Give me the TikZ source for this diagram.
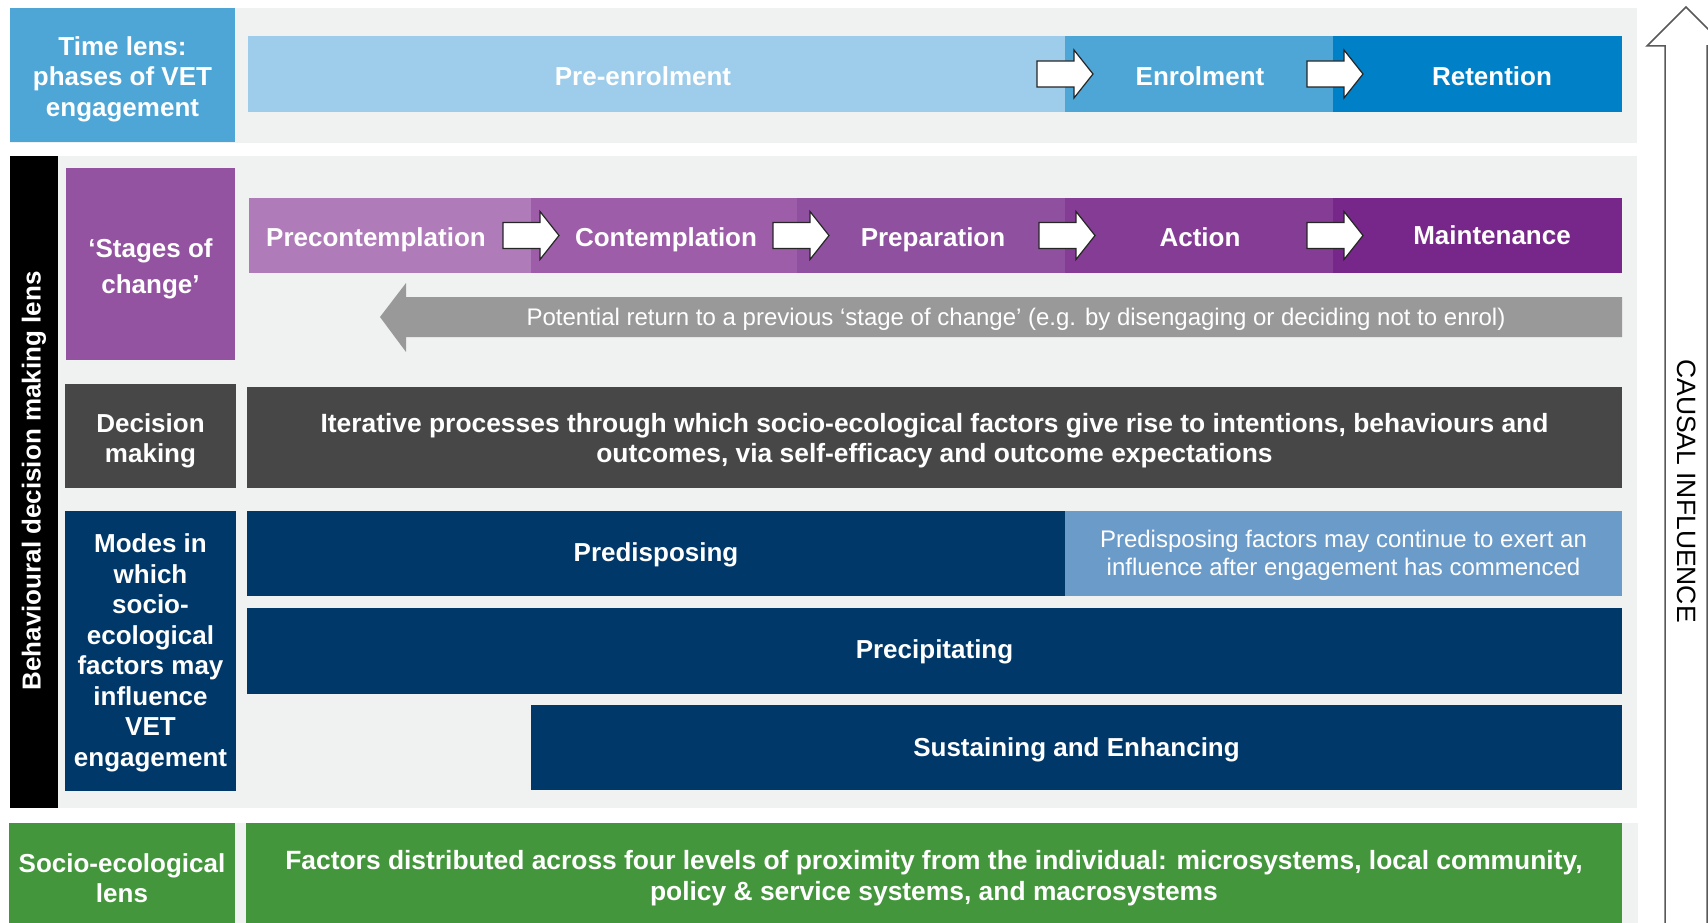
\documentclass[tikz,border=0pt]{standalone}
\usepackage{fontspec}
\setmainfont{Liberation Sans}
\usetikzlibrary{shapes,arrows}
\definecolor{bandgrey}{HTML}{F0F1F1}
\definecolor{prelight}{HTML}{9DCDEA}
\definecolor{phaseblue}{HTML}{4DA6D6}
\definecolor{phasedark}{HTML}{0080C6}
\definecolor{stagebox}{HTML}{9353A1}
\definecolor{stageA}{HTML}{AF7BB9}
\definecolor{stageB}{HTML}{9E5DA9}
\definecolor{stageC}{HTML}{9050A0}
\definecolor{stageD}{HTML}{843C94}
\definecolor{stageE}{HTML}{77278A}
\definecolor{returngrey}{HTML}{999999}
\definecolor{decgrey}{HTML}{474747}
\definecolor{navy}{HTML}{00386A}
\definecolor{steel}{HTML}{6B9BC9}
\definecolor{ecogreen}{HTML}{43963B}
\definecolor{causalgrey}{HTML}{595959}

\begin{document}
\begin{tikzpicture}
      [
      x=1pt, y=-1pt,
      box/.style={anchor=north west, inner sep=0pt, outer sep=0pt},
      txt/.style={inner sep=0pt, text=white, align=center, font=\bfseries\fontsize{26}{30.5}\selectfont},
      lbl/.style={inner sep=0pt, anchor=base, text=white, font=\bfseries\fontsize{26}{30.5}\selectfont},
      note/.style={inner sep=0pt, text=white, align=center, font=\fontsize{24}{28}\selectfont},
      blockarrow/.style={draw=black!85, fill=white, line width=1.2pt, line join=miter},
      causal/.style={draw=causalgrey, line width=1.5pt, line join=miter},
      ]
      \useasboundingbox (0,0) rectangle (1708,923);
      % time lens
      \fill[bandgrey] (10,8) rectangle (1637,143);
      \node[box, fill=phaseblue, minimum width=225pt, minimum height=134pt] (timelens) at (10,8) {};
      \node[txt, yshift=-4pt] (timelenslbl) at (timelens.center) {Time lens:\\phases of VET\\engagement};
      \foreach \name/\xa/\xb/\col in {preenrol/248/1065/prelight, enrol/1065/1333/phaseblue, retain/1333/1622/phasedark}
        \node[box, fill=\col, minimum width=\xb pt-\xa pt, minimum height=76pt] (\name) at (\xa,36) {};
      \node[lbl] (preenrollbl) at (643,86) {Pre-enrolment};
      \node[lbl] (enrollbl) at (1200,86) {Enrolment};
      \node[lbl] (retainlbl) at (1492,86) {Retention};
      % behavioural decision making lens
      \fill[bandgrey] (10,156) rectangle (1637,808);
      \fill[black] (10,156) rectangle (58,808);
      \node[txt, rotate=90] (behavlbl) at (34,481) {Behavioural decision making lens};
      \node[box, fill=stagebox, minimum width=169pt, minimum height=192pt] (stages) at (66,168) {};
      \node[txt, font=\bfseries\fontsize{26}{36}\selectfont, yshift=-5pt] (stageslbl) at (stages.center)
        {‘Stages of\\change’};
      \foreach \name/\xa/\xb/\col in {precont/249/531/stageA, cont/531/797/stageB, prep/797/1065/stageC,
          action/1065/1333/stageD, maint/1333/1622/stageE}
        \node[box, fill=\col, minimum width=\xb pt-\xa pt, minimum height=75pt] (\name) at (\xa,198) {};
      \node[lbl] (precontlbl) at (376,246) {Precontemplation};
      \node[lbl] (contlbl) at (666,246) {Contemplation};
      \node[lbl] (preplbl) at (933,246) {Preparation};
      \node[lbl] (actionlbl) at (1200,246) {Action};
      \node[lbl] (maintlbl) at (1492,244) {Maintenance};
      \foreach \ax/\ay in {1037/74, 1307/74, 503/235.5, 773/235.5, 1039/235.5, 1307/235.5}
        \draw[blockarrow] (\ax,\ay) ++(0,-13) -- ++(37,0) -- ++(0,-11) -- ++(19,24)
          -- ++(-19,24) -- ++(0,-11) -- ++(-37,0) -- cycle;
      % return arrow
      \fill[returngrey] (380,317) -- (406,283) -- (406,297) -- (1622,297) -- (1622,337)
        -- (406,337) -- (406,352) -- cycle;
      \node[note, yshift=-2pt] (returnlbl) at (1016,317)
        {Potential return to a previous ‘stage of change’ (e.g. by disengaging or deciding not to enrol)};
      % decision making
      \node[box, fill=decgrey, minimum width=171pt, minimum height=104pt] (decision) at (65,384) {};
      \node[txt, yshift=-5pt] (decisionlbl) at (decision.center) {Decision\\making};
      \node[box, fill=decgrey, minimum width=1375pt, minimum height=101pt] (iterative) at (247,387) {};
      \node[txt, font=\bfseries\fontsize{26.4}{30.5}\selectfont, yshift=-3pt] (iterativelbl) at (iterative.center)
        {Iterative processes through which socio-ecological factors give rise to intentions, behaviours and\\
         outcomes, via self-efficacy and outcome expectations};
      % modes
      \node[box, fill=navy, minimum width=171pt, minimum height=280pt] (modes) at (65,511) {};
      \node[txt, yshift=-2pt] (modeslbl) at (modes.center)
        {Modes in\\which\\socio-\\ecological\\factors may\\influence\\VET\\engagement};
      \node[box, fill=navy, minimum width=818pt, minimum height=85pt] (predisp) at (247,511) {};
      \node[txt, yshift=-1pt] (predisplbl) at (predisp.center) {Predisposing};
      \node[box, fill=steel, minimum width=557pt, minimum height=85pt] (predispnote) at (1065,511) {};
      \node[note, yshift=-1.5pt] (predispnotelbl) at (predispnote.center)
        {Predisposing factors may continue to exert an\\influence after engagement has commenced};
      \node[box, fill=navy, minimum width=1375pt, minimum height=86pt] (precip) at (247,608) {};
      \node[txt, yshift=-1pt] (preciplbl) at (precip.center) {Precipitating};
      \node[box, fill=navy, minimum width=1091pt, minimum height=85pt] (sustain) at (531,705) {};
      \node[txt, yshift=-2pt] (sustainlbl) at (sustain.center) {Sustaining and Enhancing};
      % socio-ecological lens
      \fill[bandgrey] (9,823) rectangle (1638,923);
      \node[box, fill=ecogreen, minimum width=226pt, minimum height=110pt] (ecolens) at (9,823) {};
      \node[txt] (ecolenslbl) at (ecolens.center) {Socio-ecological\\lens};
      \node[box, fill=ecogreen, minimum width=1376pt, minimum height=106pt] (factors) at (246,823) {};
      \node[txt, font=\bfseries\fontsize{26.4}{30.5}\selectfont, yshift=-2pt] (factorslbl) at (factors.center)
        {Factors distributed across four levels of proximity from the individual: microsystems, local community,\\
         policy \& service systems, and macrosystems};
      % causal influence
      \begin{scope}
        \clip (0,0) rectangle (1708,923);
        \draw[causal] (1665,930) -- (1665,46) -- (1647,46) -- (1686,7) -- (1725,46) -- (1707,46) -- (1707,930);
      \end{scope}
      \node[inner sep=0pt, rotate=-90, font=\fontsize{26.5}{28}\selectfont] (causallbl) at (1687,491)
        {CAUSAL INFLUENCE};
    \end{tikzpicture}
\end{document}
